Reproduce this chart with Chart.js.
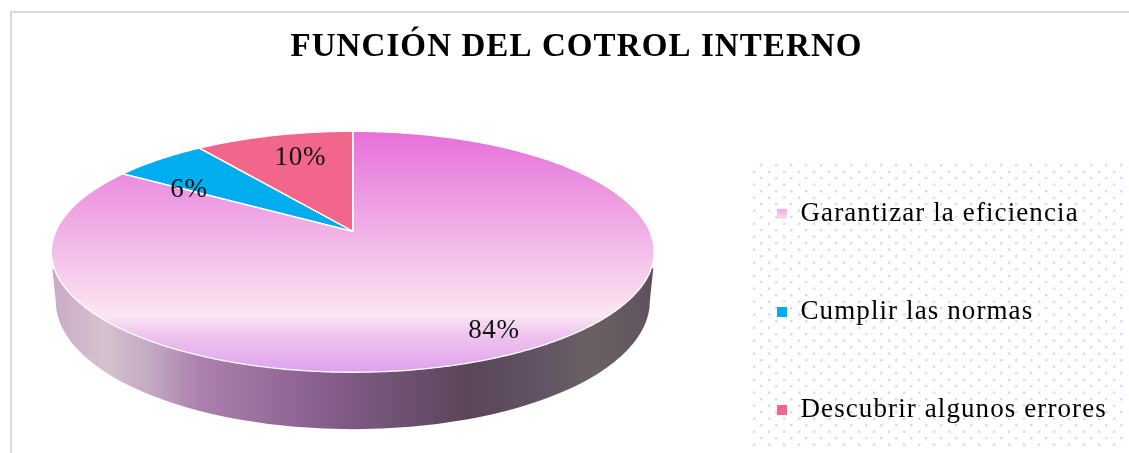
<!DOCTYPE html>
<html lang="es">
<head>
<meta charset="utf-8">
<title>Función del control interno</title>
<style>
html,body{margin:0;padding:0;background:#fff;overflow:hidden}
#wrap{position:relative;width:1129px;height:453px}
canvas{display:block}
</style>
<script src="https://cdn.jsdelivr.net/npm/chart.js@4/dist/chart.umd.min.js"></script>
</head>
<body>
<div id="wrap"><canvas id="c" width="1129" height="453"></canvas></div>
<script>
const chartTitle = 'FUNCIÓN DEL COTROL INTERNO';
const categories = ['Garantizar la eficiencia', 'Cumplir las normas', 'Descubrir algunos errores'];
const values = [84, 6, 10];
const sliceColors = ['#f0a8e4', '#00aeef', '#f1668a'];
const serif = '"Liberation Serif", "Times New Roman", serif';

// View of the tilted disc
const VIEW = { radius: 297, persp: 0.17, tilt: 117 / 297 };
// Value label placement along each slice
const LABEL_POS = [0.86, 0.83, 0.63];
const LABEL_DY = [-2, 19, -10];

function project(el, angle, f) {
  const u = Math.cos(angle) * f, v = Math.sin(angle) * f;
  const w = 1 - VIEW.persp * v;
  return [el.x + VIEW.radius * u / w, el.y + VIEW.radius * VIEW.tilt * v / w];
}

function tracePie(ctx, el) {
  const steps = Math.max(8, Math.ceil((el.endAngle - el.startAngle) / 0.01));
  ctx.beginPath();
  ctx.moveTo(...project(el, 0, 0));
  for (let i = 0; i <= steps; i++) {
    const a = el.startAngle + (el.endAngle - el.startAngle) * i / steps;
    ctx.lineTo(...project(el, a, 1));
  }
  ctx.closePath();
}

function topGradient(ctx) {
  const g = ctx.createLinearGradient(0, 131, 0, 372);
  g.addColorStop(0, '#e66fda');
  g.addColorStop(0.415, '#f1b1e6');
  g.addColorStop(0.70, '#f9dcf0');
  g.addColorStop(0.765, '#fae6f3');
  g.addColorStop(0.85, '#eec3ee');
  g.addColorStop(1, '#dfa2ee');
  return g;
}

function wallGradient(ctx) {
  const g = ctx.createLinearGradient(53, 0, 654, 0);
  [[53,'#cba9c8'],[105,'#d5c2cf'],[150,'#c3a9c4'],[200,'#ab80ac'],[300,'#8e6594'],
   [345,'#805a85'],[400,'#6f5272'],[470,'#5a4559'],[540,'#625465'],[592,'#6a6163'],[640,'#625560'],[654,'#5d4f59']]
    .forEach(([x, c]) => g.addColorStop((x - 53) / 601, c));
  return g;
}

function withSpacing(box, ctx, spacing) {
  if (box._spaced) return;
  box._spaced = true;
  const draw = box.draw.bind(box);
  box.draw = area => {
    ctx.save();
    ctx.letterSpacing = spacing;
    draw(area);
    ctx.restore();
  };
}

const pie3d = {
  id: 'pie3d',
  beforeDraw(chart) {
    const ctx = chart.ctx;
    ctx.save();
    ctx.fillStyle = '#fff';
    ctx.fillRect(0, 0, chart.width, chart.height);
    ctx.strokeStyle = '#d9d9d9';
    ctx.lineWidth = 2;
    ctx.beginPath();
    ctx.moveTo(11, 453); ctx.lineTo(11, 12); ctx.lineTo(1129, 12);
    ctx.stroke();
    ctx.fillStyle = '#dcd6ff';
    let row = 0;
    for (let y = 165; y < 450; y += 6.5, row++) {
      for (let x = row % 2 ? 754 : 761; x < 1129; x += 15) {
        ctx.fillRect(x - 1, y - 1, 2.4, 2.4);
      }
    }
    ctx.restore();
  },
  afterLayout(chart) {
    const l = chart.legend;
    l.maxHeight = 800;
    l.maxWidth = 600;
    l.fit();
    l.left = 706; l.right = chart.width;
    l.top = 129.5; l.bottom = l.top + l.height;
    const t = chart.titleBlock;
    const tw = t.right - t.left;
    t.left = 576.5 - tw / 2; t.right = t.left + tw;
    withSpacing(l, chart.ctx, '1.1px');
    withSpacing(t, chart.ctx, '1.1px');
  },
  beforeDatasetDraw(chart, args) {
    const ctx = chart.ctx;
    const arcs = chart.getDatasetMeta(args.index).data;
    const el = arcs[0];
    ctx.save();
    const cx = el.x, wy = el.y + 70, rx = VIEW.radius, ry = 128;
    ctx.beginPath();
    ctx.moveTo(cx - 300.5, el.y + 38);
    ctx.lineTo(cx - rx, wy);
    ctx.ellipse(cx, wy, rx, ry, 0, Math.PI, 0, true);
    ctx.lineTo(cx + 300.5, el.y + 37);
    ctx.closePath();
    ctx.fillStyle = wallGradient(ctx);
    ctx.fill();
    arcs.forEach((a, i) => {
      tracePie(ctx, a);
      ctx.fillStyle = i === 0 ? topGradient(ctx) : sliceColors[i];
      ctx.fill();
    });
    ctx.strokeStyle = '#fff';
    ctx.lineWidth = 1.3;
    ctx.lineJoin = 'round';
    arcs.forEach(a => { tracePie(ctx, a); ctx.stroke(); });
    ctx.restore();
    return false;
  },
  afterDatasetsDraw(chart) {
    const ctx = chart.ctx;
    const arcs = chart.getDatasetMeta(0).data;
    ctx.save();
    ctx.font = '27px ' + serif;
    ctx.letterSpacing = '0.7px';
    ctx.fillStyle = '#111';
    ctx.textAlign = 'center';
    ctx.textBaseline = 'middle';
    arcs.forEach((a, i) => {
      const mid = (a.startAngle + a.endAngle) / 2;
      const [x, y] = project(a, mid, LABEL_POS[i]);
      ctx.fillText(values[i] + '%', x, y + LABEL_DY[i]);
    });
    ctx.restore();
  }
};

new Chart(document.getElementById('c'), {
  type: 'pie',
  data: {
    labels: categories,
    datasets: [{ data: values, backgroundColor: sliceColors, borderWidth: 0 }]
  },
  plugins: [pie3d],
  options: {
    responsive: false,
    animation: false,
    layout: { padding: { left: 12, right: 52, top: 0, bottom: 75 } },
    plugins: {
      tooltip: { enabled: false },
      title: {
        display: true,
        text: chartTitle,
        color: '#000',
        font: { family: serif, size: 33, weight: 'bold' },
        padding: { top: 28, bottom: 17 }
      },
      legend: {
        position: 'right',
        align: 'start',
        labels: {
          color: '#111',
          font: { family: serif, size: 27 },
          boxWidth: 10,
          boxHeight: 10,
          padding: 71,
          generateLabels(chart) {
            const ctx = chart.ctx;
            const g = ctx.createLinearGradient(0, 207, 0, 220);
            g.addColorStop(0, '#ee9fe0');
            g.addColorStop(1, '#fbe6f5');
            return categories.map((text, i) => ({
              text, index: i, datasetIndex: 0, lineWidth: 0,
              strokeStyle: 'transparent',
              fillStyle: i === 0 ? g : sliceColors[i]
            }));
          }
        }
      }
    }
  }
});
</script>
</body>
</html>
